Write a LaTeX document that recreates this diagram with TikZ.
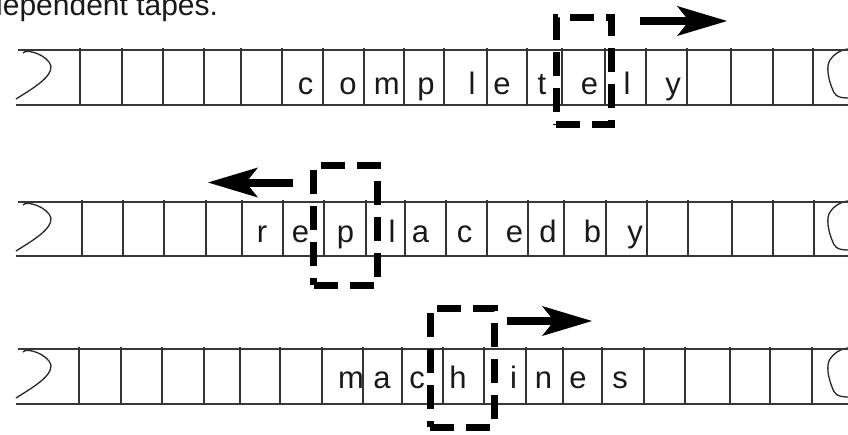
\documentclass[tikz,border=0pt]{standalone}
\usepackage{fontspec}
\setmainfont{Liberation Sans}
\usetikzlibrary{arrows.meta}
\begin{document}
\begin{tikzpicture}[x=1pt,y=-1pt,
  tapeline/.style={draw=black!78, line width=1.3pt},
  cellmark/.style={draw=black!80, line width=1.3pt},
  sym/.style={anchor=base, inner sep=0pt, font=\fontsize{31}{31}\selectfont, text=black!90},
  headbox/.style={draw=black, line width=7pt, dash pattern=on 24pt off 12pt, inner sep=0pt},
  move/.style={line width=8pt, -{Stealth[length=50pt,width=30pt,inset=12pt,line width=0pt]}},
  endcap/.style={draw=black!85, line width=1.3pt},
]
\useasboundingbox (0,0) rectangle (848,434);

% heading line, partly cut off by the frame
\node[anchor=base west, inner sep=0pt, font=\fontsize{30}{30}\selectfont, text=black!90] (title) at (-14,15) {dependent tapes.};

% ---------- the two ends of a tape, drawn once per tape ----------
\foreach \dy in {0,152,299}{
  \begin{scope}[shift={(0,\dy)}]
    \draw[endcap] (23,53) .. controls (26,48) and (48,55) .. (51,66)
                  .. controls (52,78) and (30,90) .. (16,99);
    \draw[endcap] (848,49) .. controls (840,50) and (834,54) .. (830,60)
                  .. controls (826,66) and (828,78) .. (832,88)
                  .. controls (834,94) and (836,98) .. (848,98);
  \end{scope}
}

% ---------- tape 1 ----------
\draw[tapeline] (18,50) -- (848,50);
\draw[tapeline] (16,105) -- (848,105);
\foreach \x in {80,122,163,204,241,282,323,364,404,444,487,527,562,605,646,687,731,773,813}
  \draw[cellmark] (\x,48) -- (\x,106);
\node[sym] (t1a) at (305.5,94) {c};
\node[sym] (t1b) at (348,94) {o};
\node[sym] (t1c) at (386.7,94) {m};
\node[sym] (t1d) at (426,94) {p};
\node[sym] (t1e) at (472,94) {l};
\node[sym] (t1f) at (502,94) {e};
\node[sym] (t1g) at (542,94) {t};
\node[sym] (t1h) at (589.5,94) {e};
\node[sym] (t1i) at (627,94) {l};
\node[sym] (t1j) at (673,94) {y};
\node[headbox, minimum width=55.5pt, minimum height=107pt] (head1) at (584.2,71.3) {};
\coordinate (m1s) at (640,21);
\coordinate (m1e) at (727,21);
\draw[move] (m1s) -- (m1e);

% ---------- tape 2 ----------
\draw[tapeline] (18,202) -- (848,202);
\draw[tapeline] (16,256) -- (848,256);
\foreach \x in {82,123,164,206,242,283,324,366,405,446,487,528,564,606,647,688,732,773,814}
  \draw[cellmark] (\x,200) -- (\x,257);
\node[sym] (t2a) at (262,242) {r};
\node[sym] (t2b) at (300.5,242) {e};
\node[sym] (t2c) at (345.5,242) {p};
\node[sym] (t2d) at (392,242) {l};
\node[sym] (t2e) at (420.5,242) {a};
\node[sym] (t2f) at (464.5,242) {c};
\node[sym] (t2g) at (514.5,242) {e};
\node[sym] (t2h) at (548,242) {d};
\node[sym] (t2i) at (592.5,242) {b};
\node[sym] (t2j) at (635,242) {y};
\node[headbox, minimum width=63.5pt, minimum height=120pt] (head2) at (345.3,225) {};
\coordinate (m2s) at (293,182.5);
\coordinate (m2e) at (208,182.5);
\draw[move] (m2s) -- (m2e);

% ---------- tape 3 ----------
\draw[tapeline] (18,349) -- (848,349);
\draw[tapeline] (16,404) -- (848,404);
\foreach \x in {79,121,162,204,240,280,322,363,402,443,484,526,563,602,644,685,730,770,812}
  \draw[cellmark] (\x,347) -- (\x,405);
\node[sym] (t3a) at (351,388) {m};
\node[sym] (t3b) at (382,388) {a};
\node[sym] (t3c) at (417,388) {c};
\node[sym] (t3d) at (458,388) {h};
\node[sym] (t3e) at (513.5,388) {i};
\node[sym] (t3f) at (543.5,388) {n};
\node[sym] (t3g) at (578,388) {e};
\node[sym] (t3h) at (620,388) {s};
\node[headbox, minimum width=64pt, minimum height=119pt] (head3) at (462,367.5) {};
\coordinate (m3s) at (507,321);
\coordinate (m3e) at (592,321);
\draw[move] (m3s) -- (m3e);
\end{tikzpicture}
\end{document}
